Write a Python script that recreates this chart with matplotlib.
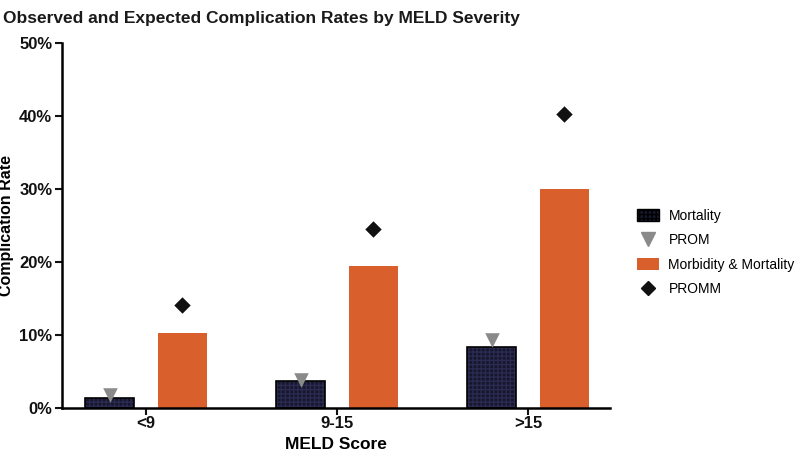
import matplotlib.pyplot as plt
import numpy as np
from matplotlib.lines import Line2D
from matplotlib.patches import Patch

plt.rcParams['font.family'] = ['Liberation Sans', 'DejaVu Sans']

groups = ['<9', '9-15', '>15']
mortality = [1.4, 3.7, 8.4]
prom = [1.8, 3.8, 9.3]
morb_mort = [10.3, 19.5, 30.0]
promm = [14.1, 24.5, 40.3]

navy = '#17172b'
orange = '#d95f2d'
grey = '#8a8a8a'

x = np.arange(len(groups))
off = 0.19
w = 0.255

fig = plt.figure(figsize=(8, 4.59), dpi=100)
ax = fig.add_axes([0.0775, 0.111, 0.685, 0.795])

plt.rcParams['hatch.linewidth'] = 1.0
ax.bar(x - off, mortality, width=w, color=navy, edgecolor='#2a2a52', hatch='++++', linewidth=0, zorder=2)
ax.bar(x - off, mortality, width=w, fill=False, edgecolor='black', linewidth=1.2, zorder=3)
ax.bar(x + off, morb_mort, width=w, color=orange, linewidth=0, zorder=2)
ax.scatter(x - off, prom, marker='v', s=110, color=grey, zorder=4, linewidths=0)
ax.scatter(x + off, promm, marker='D', s=70, color='#111111', zorder=4, linewidths=0)

ax.set_xlim(-0.44, 2.43)
ax.set_ylim(0, 50)
ax.set_yticks([0, 10, 20, 30, 40, 50])
ax.set_yticklabels(['%d%%' % v for v in [0, 10, 20, 30, 40, 50]])
ax.set_xticks(x)
ax.set_xticklabels(groups)

for s in ['top', 'right']:
    ax.spines[s].set_visible(False)
for s in ['left', 'bottom']:
    ax.spines[s].set_linewidth(1.8)
ax.tick_params(width=1.5, length=5, labelsize=12, pad=2, colors='#111111')
ax.tick_params(axis='x', pad=1)
for lbl in ax.get_xticklabels() + ax.get_yticklabels():
    lbl.set_fontweight('bold')

ax.set_ylabel('Complication Rate', fontsize=11.5, fontweight='bold')
ax.yaxis.set_label_coords(-0.088, 0.5)
ax.set_xlabel('MELD Score', fontsize=12.5, fontweight='bold', labelpad=4)

fig.text(0.004, 0.975, 'Observed and Expected Complication Rates by MELD Severity',
         fontsize=12.5, fontweight='bold', va='top', ha='left', color='#1a1a1a')

handles = [
    Patch(facecolor=navy, edgecolor='black', hatch='++++'),
    Line2D([], [], marker='v', color=grey, linestyle='none', markersize=10),
    Patch(facecolor=orange, edgecolor='none'),
    Line2D([], [], marker='D', color='#111111', linestyle='none', markersize=7.5),
]
labels = ['Mortality', 'PROM', 'Morbidity & Mortality', 'PROMM']
fig.legend(handles, labels, loc='center left', bbox_to_anchor=(0.78, 0.45),
           frameon=False, fontsize=10, handlelength=1.6, handleheight=0.9,
           labelspacing=0.75, handletextpad=0.7)

fig.savefig('out.png', dpi=100)
